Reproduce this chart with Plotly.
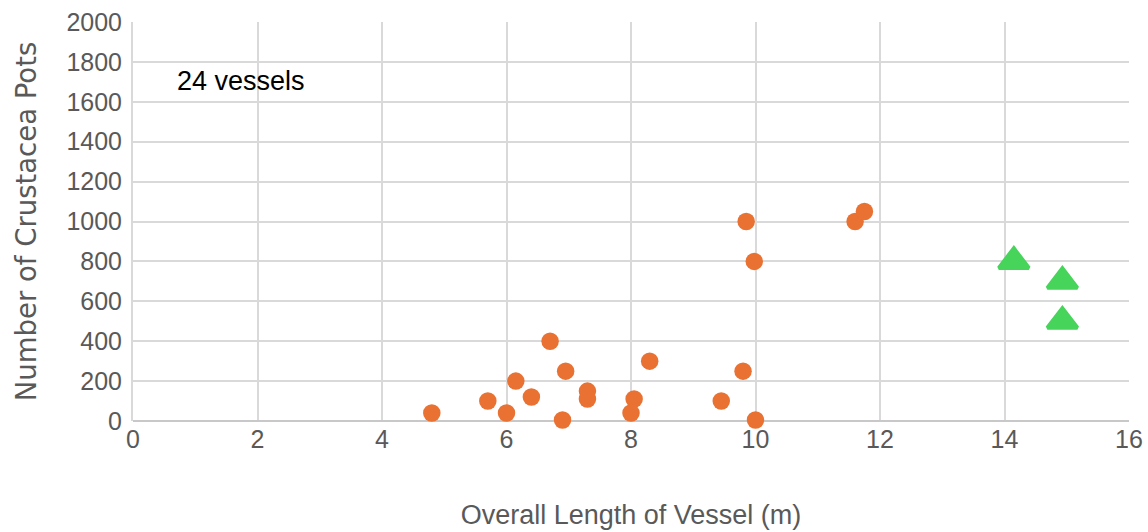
import plotly.graph_objects as go

# Data
circle_length = [4.8, 5.7, 6.0, 6.15, 6.4, 6.7, 6.95, 6.9, 7.3, 7.3, 8.05, 8.0, 8.3, 9.45, 9.8, 10.0, 9.85, 9.98, 11.6, 11.75]
circle_pots = [40, 100, 40, 200, 120, 400, 250, 5, 150, 110, 110, 40, 300, 100, 250, 5, 1000, 800, 1000, 1050]
tri_length = [14.15, 14.93, 14.93]
tri_pots = [800, 700, 500]

x_ticks = [0, 2, 4, 6, 8, 10, 12, 14, 16]
y_ticks = [0, 200, 400, 600, 800, 1000, 1200, 1400, 1600, 1800, 2000]

ORANGE = "#E97132"
GREEN = "#47D45A"
GRID = "#D9D9D9"
TICK = "#595959"

fig = go.Figure()
fig.add_trace(go.Scatter(
    x=circle_length, y=circle_pots, mode="markers",
    marker=dict(symbol="circle", size=17.5, color=ORANGE, line=dict(width=0)),
    cliponaxis=False, showlegend=False,
))
fig.add_trace(go.Scatter(
    x=tri_length, y=tri_pots, mode="markers",
    marker=dict(symbol="triangle-up", size=26, color=GREEN, line=dict(width=4, color=GREEN)),
    cliponaxis=False, showlegend=False,
))

fig.add_annotation(
    x=0.68, y=1705, xref="x", yref="y", text="24 vessels", showarrow=False,
    xanchor="left", yanchor="middle",
    font=dict(family="Liberation Sans, Arial, sans-serif", size=27, color="#000000"),
)

fig.update_xaxes(
    range=[0, 16], tickvals=x_ticks, ticktext=[str(v) for v in x_ticks],
    showgrid=True, gridcolor=GRID, gridwidth=2,
    zeroline=False, showline=False,
    tickfont=dict(family="Liberation Sans, Arial, sans-serif", size=25, color=TICK),
    ticklabelstandoff=1,
    title=dict(text="Overall Length of Vessel (m)", standoff=53,
               font=dict(family="Liberation Sans, Arial, sans-serif", size=27, color=TICK)),
)
fig.update_yaxes(
    range=[0, 2000], tickvals=y_ticks, ticktext=[str(v) for v in y_ticks],
    showgrid=True, gridcolor=GRID, gridwidth=2,
    zeroline=True, zerolinecolor="#C8C8C8", zerolinewidth=2,
    showline=True, linecolor=GRID, linewidth=2,
    tickfont=dict(family="Liberation Sans, Arial, sans-serif", size=25, color=TICK),
    ticklabelstandoff=4,
    title=dict(text="Number of Crustacea Pots", standoff=22,
               font=dict(family="DejaVu Sans, sans-serif", size=27.5, color=TICK)),
)

fig.update_layout(
    width=1148, height=532,
    margin=dict(l=133, r=19, t=22, b=111, autoexpand=False),
    paper_bgcolor="white", plot_bgcolor="white",
)

fig.write_html("out.html")
